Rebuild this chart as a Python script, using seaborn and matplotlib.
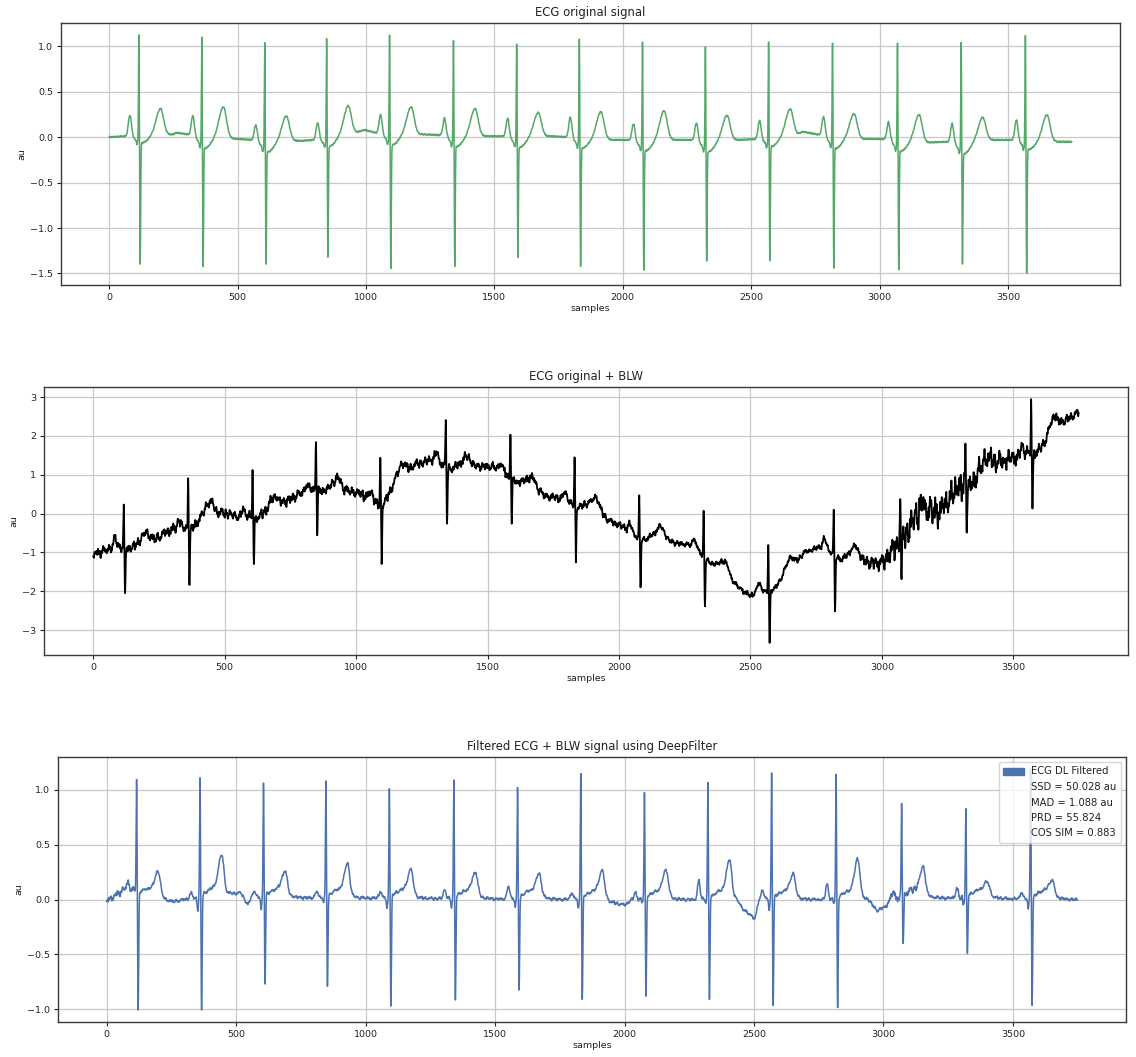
import numpy as np
import pandas as pd
import matplotlib
matplotlib.use("Agg")
import matplotlib.pyplot as plt
from matplotlib.patches import Patch
import seaborn as sns

# ---------------------------------------------------------------------------
# Beat annotations (sample index of each R peak) shared by the three traces
N_SAMPLES = 3750
R_POS = [116, 361, 606, 847, 1092, 1341, 1587, 1831, 2077, 2322, 2568, 2817, 3070, 3318, 3568]

# Clean ECG: per-beat wave amplitudes (au)
R1 = [1.143, 1.118, 1.055, 1.100, 1.140, 1.080, 1.040, 1.096, 1.063, 1.011, 1.063, 1.051, 1.051, 1.059, 1.136]
S1 = [-1.397, -1.423, -1.397, -1.320, -1.445, -1.423, -1.324, -1.423, -1.463, -1.364, -1.360, -1.441, -1.460, -1.397, -1.496]
P1 = [0.24, 0.23, 0.18, 0.19, 0.22, 0.20, 0.21, 0.23, 0.19, 0.20, 0.21, 0.22, 0.20, 0.21, 0.23]
T1 = [0.29, 0.34, 0.27, 0.31, 0.30, 0.30, 0.26, 0.30, 0.32, 0.27, 0.29, 0.27, 0.30, 0.25, 0.29]
ST1 = [-0.08, -0.13, -0.13, -0.10, -0.12, -0.12, -0.12, -0.11, -0.12, -0.13, -0.10, -0.13, -0.12, -0.14, -0.10]
# Clean ECG: slow isoelectric drift
B1_X = [0, 60, 250, 262, 330, 500, 560, 750, 800, 960, 995, 1050, 1230, 1320, 1480, 1560, 1720,
        1800, 1960, 2040, 2200, 2290, 2450, 2530, 2680, 2700, 2780, 2930, 3030, 3180, 3270, 3420,
        3530, 3700, 3749]
B1_Y = [0.0, 0.01, 0.03, 0.05, 0.02, -0.02, -0.03, -0.04, -0.03, 0.05, 0.08, 0.04, 0.03, 0.02, 0.01,
        0.01, 0.01, 0.0, -0.03, -0.03, -0.03, -0.03, -0.03, -0.02, 0.03, 0.06, 0.02, -0.02, -0.02,
        -0.06, -0.05, -0.03, -0.03, -0.05, -0.05]

# Baseline wander added to the clean ECG
BLW_X = [0, 50, 116, 150, 200, 250, 300, 361, 420, 450, 500, 550, 606, 650, 700, 750, 800, 847,
         900, 950, 1000, 1050, 1092, 1120, 1150, 1190, 1230, 1260, 1300, 1341, 1380, 1430, 1480,
         1530, 1587, 1630, 1680, 1720, 1780, 1831, 1870, 1914, 1960, 2011, 2077, 2120, 2157, 2220,
         2290, 2322, 2346, 2401, 2443, 2499, 2534, 2568, 2600, 2650, 2708, 2778, 2817, 2847, 2896,
         2945, 3001, 3040, 3070, 3112, 3168, 3223, 3265, 3318, 3349, 3391, 3447, 3517, 3568, 3600,
         3628, 3655, 3697, 3749]
BLW_Y = [-1.05, -0.95, -0.80, -0.85, -0.80, -0.62, -0.45, -0.30, -0.05, 0.0, 0.04, -0.06, 0.06,
         0.08, 0.25, 0.42, 0.58, 0.72, 0.62, 0.55, 0.47, 0.36, 0.25, 0.50, 0.80, 1.05, 1.25, 1.30,
         1.40, 1.27, 1.25, 1.15, 1.22, 1.18, 1.00, 0.85, 0.63, 0.45, 0.38, 0.30, 0.30, 0.13, -0.15,
         -0.30, -0.52, -0.52, -0.62, -0.73, -0.80, -0.98, -1.12, -1.45, -1.80, -2.10, -1.95, -1.92,
         -1.80, -1.45, -1.05, -0.85, -0.95, -1.08, -1.09, -1.24, -1.25, -1.00, -0.55, -0.20, 0.05,
         0.15, 0.45, 0.85, 0.97, 1.24, 1.37, 1.50, 1.70, 1.75, 1.90, 2.30, 2.45, 2.65]
# Noisy trace: spike extremes and noise level
R2 = [0.23, 0.91, 1.12, 1.84, 1.44, 2.41, 2.03, 1.45, 0.47, 0.07, -0.81, 0.10, 0.37, 1.80, 2.95]
S2 = [-2.05, -1.84, -1.30, -0.56, -1.30, -0.26, -0.26, -1.26, -1.90, -2.39, -3.33, -2.52, -1.69, -0.49, 0.13]
NOISE2_X = [0, 1000, 1700, 2300, 2900, 3000, 3080, 3300, 3480, 3600, 3749]
NOISE2_A = [0.13, 0.13, 0.11, 0.07, 0.08, 0.22, 0.40, 0.36, 0.24, 0.14, 0.12]

# DeepFilter output: per-beat wave amplitudes (au)
R3 = [1.106, 1.120, 1.070, 1.090, 1.020, 1.100, 1.030, 1.158, 0.985, 1.076, 1.164, 1.152, 0.880, 0.833, 1.200]
S3 = [-1.006, -1.006, -0.770, -0.790, -0.970, -0.915, -0.824, -0.910, -0.880, -0.910, -0.964, -0.985, -0.400, -0.490, -0.964]
P3 = [0.06, 0.05, 0.06, 0.06, 0.06, 0.08, 0.12, 0.06, 0.06, 0.17, 0.09, 0.14, 0.06, 0.08, 0.06]
Q3 = [-0.02, -0.12, -0.12, -0.04, -0.10, -0.09, -0.07, -0.09, -0.03, -0.03, -0.10, -0.04, -0.02, -0.06, -0.10]
T3 = [0.26, 0.38, 0.25, 0.32, 0.27, 0.25, 0.24, 0.28, 0.28, 0.37, 0.24, 0.38, 0.29, 0.16, 0.18]
B3_X = [0, 10, 40, 70, 100, 130, 250, 300, 520, 545, 560, 1900, 1950, 2000, 2030, 2430, 2462,
        2504, 2520, 2940, 2974, 3003, 3040, 3749]
B3_Y = [0.01, -0.01, 0.05, 0.09, 0.10, 0.04, -0.02, 0.0, 0.06, -0.05, 0.02, 0.0, -0.03, -0.05,
        0.0, 0.0, -0.10, -0.17, 0.0, 0.0, -0.10, -0.07, 0.02, 0.0]
NOISE3_X = [0, 110, 130, 3000, 3040, 3120, 3140, 3260, 3300, 3320, 3749]
NOISE3_A = [0.035, 0.035, 0.016, 0.016, 0.04, 0.04, 0.016, 0.016, 0.035, 0.016, 0.016]

# Residual jitter sequences
JIT_A = [0.3, 0.8, 0.2, -0.5, -0.9, -0.2, 0.6, 1.0, 0.4, -0.3, -0.7, -1.0, -0.4, 0.1, 0.7, 0.5,
         -0.1, -0.6, -0.2, 0.4, 0.9, 0.6, -0.2, -0.8, -0.5, 0.0, 0.3, -0.4, -0.9, -0.6, 0.2, 0.8,
         1.0, 0.3, -0.5, -0.3, 0.2, 0.6, 0.1, -0.7, -1.0, -0.5, 0.4, 0.7, 0.2, -0.2, 0.5, 0.9, 0.4,
         -0.4, -0.8, -0.3, 0.1, -0.2, -0.6, 0.0, 0.6, 0.3, -0.3, -0.9, -0.7, 0.1, 0.8, 0.9, 0.2,
         -0.4, -0.1, 0.4, -0.2, -0.8, -0.4, 0.3, 0.7, 0.1, -0.5, -0.2, 0.5, 1.0, 0.5, -0.3, -0.6,
         -1.0, -0.6, 0.2, 0.4, -0.1, 0.3, 0.8, 0.2, -0.5, -0.9]
JIT_B = [0.5, -0.3, -0.8, 0.1, 0.9, 0.4, -0.6, -0.2, 0.7, -0.1, -0.9, -0.4, 0.3, 0.8, -0.5, 0.2,
         0.6, -0.7, -0.3, 0.4, 1.0, 0.0, -0.6, 0.3, -0.2, -0.8, 0.5, 0.7, -0.4, 0.1, 0.8, -0.3,
         -1.0, 0.2, 0.6, -0.5, 0.0]

METRICS = ["SSD = 50.028 au", "MAD = 1.088 au", "PRD = 55.824", "COS SIM = 0.883"]

GREEN = "#55A868"
BLUE = "#4C72B0"

# ---------------------------------------------------------------------------
n = np.arange(N_SAMPLES, dtype=float)


def bump(center, width):
    return np.exp(-0.5 * ((n - center) / width) ** 2)


def skew_bump(center, w_left, w_right):
    w = np.where(n < center, w_left, w_right)
    return np.exp(-0.5 * ((n - center) / w) ** 2)


def set_spikes(sig, r_vals, s_vals, s_lag, r_w, s_w):
    """Place QRS spikes so that the R tip and S trough hit the given values."""
    for r, rv, sv in zip(R_POS, r_vals, s_vals):
        sig = sig + (rv - sig[r]) * bump(r, r_w)
        sig = sig + (sv - sig[r + s_lag]) * bump(r + s_lag, s_w)
    return sig


fast = np.resize(np.array(JIT_A), N_SAMPLES)
slow = np.convolve(np.resize(np.repeat(JIT_B, 5), N_SAMPLES), np.ones(3) / 3, mode="same")
jitter = 0.55 * fast + 0.75 * slow

# clean ECG
ecg = np.interp(n, B1_X, B1_Y)
for i, r in enumerate(R_POS):
    ecg += P1[i] * bump(r - 35, 6.0)
    ecg += -0.04 * bump(r - 8, 2.0)
    ecg += ST1[i] * bump(r + 12, 22)
    ecg += T1[i] * skew_bump(r + 84, 17, 12)
ecg += 0.008 * fast
ecg = set_spikes(ecg, R1, S1, 5, 1.5, 1.7)

# clean ECG + baseline wander
noisy = ecg + np.interp(n, BLW_X, BLW_Y) + np.interp(n, NOISE2_X, NOISE2_A) * np.roll(jitter, 17)
noisy = set_spikes(noisy, R2, S2, 5, 1.5, 1.7)

# DeepFilter reconstruction
filt = np.interp(n, B3_X, B3_Y)
for i, r in enumerate(R_POS):
    filt += P3[i] * bump(r - 35, 5)
    filt += Q3[i] * bump(r - 9, 2.5)
    filt += 0.08 * bump(r + 55, 30)
    filt += (T3[i] - 0.06) * skew_bump(r + 84, 12, 8)
filt += np.interp(n, NOISE3_X, NOISE3_A) * np.roll(jitter, 41)
filt = set_spikes(filt, R3, S3, 6, 1.7, 2.0)

df = pd.DataFrame({"samples": n, "original": ecg, "blw": noisy, "filtered": filt})

# ---------------------------------------------------------------------------
sns.set_theme(style="ticks")
plt.rcParams.update({
    "font.family": ["DejaVu Sans"],
    "axes.edgecolor": "#3a3a3a",
    "axes.linewidth": 1.0,
    "axes.labelsize": 6.8,
    "axes.titlesize": 8.4,
    "xtick.labelsize": 6.8,
    "ytick.labelsize": 6.8,
    "xtick.major.size": 3,
    "ytick.major.size": 3,
    "xtick.major.width": 0.8,
    "ytick.major.width": 0.8,
    "xtick.major.pad": 2.5,
    "ytick.major.pad": 2.5,
    "grid.color": "#c8c8c8",
    "grid.linewidth": 0.9,
    "text.color": "#222222",
    "axes.labelcolor": "#222222",
    "xtick.color": "#222222",
    "ytick.color": "#222222",
})

W, H = 1136, 1057
fig = plt.figure(figsize=(W / 100, H / 100), dpi=100)


def axes_px(left, right, top, bottom):
    return fig.add_axes([left / W, 1 - bottom / H, (right - left) / W, (bottom - top) / H])


ax1 = axes_px(61, 1120, 23, 285)
ax2 = axes_px(44, 1128, 387, 655)
ax3 = axes_px(58, 1126, 757, 1022)

panels = [
    (ax1, "original", GREEN, 1.1, "ECG original signal"),
    (ax2, "blw", "black", 1.3, "ECG original + BLW"),
    (ax3, "filtered", BLUE, 1.1, "Filtered ECG + BLW signal using DeepFilter"),
]
for ax, col, color, lw, title in panels:
    sns.lineplot(data=df, x="samples", y=col, ax=ax, color=color, linewidth=lw,
                 estimator=None, sort=False, legend=False)
    ax.set_title(title, pad=5)
    ax.set_xlabel("samples", labelpad=1.5)
    ax.set_ylabel("au", labelpad=3)
    ax.grid(True)
    ax.margins(x=0.05, y=0.05)

ax1.set_yticks([-1.5, -1.0, -0.5, 0.0, 0.5, 1.0])
ax2.set_yticks([-3, -2, -1, 0, 1, 2, 3])
ax3.set_yticks([-1.0, -0.5, 0.0, 0.5, 1.0])
for ax in (ax1, ax2, ax3):
    ax.set_xticks([0, 500, 1000, 1500, 2000, 2500, 3000, 3500])

handles = [Patch(facecolor=BLUE, edgecolor=BLUE)] + [Patch(facecolor="none", edgecolor="none")] * len(METRICS)
labels = ["ECG DL Filtered"] + METRICS
ax3.legend(handles, labels, loc="upper right", fontsize=7.2, frameon=True, framealpha=0.8,
           fancybox=True, edgecolor="#cccccc", labelspacing=0.55, handlelength=2.1,
           handleheight=0.7, handletextpad=0.7, borderpad=0.45, borderaxespad=0.5)

fig.savefig("out.png", dpi=100)
